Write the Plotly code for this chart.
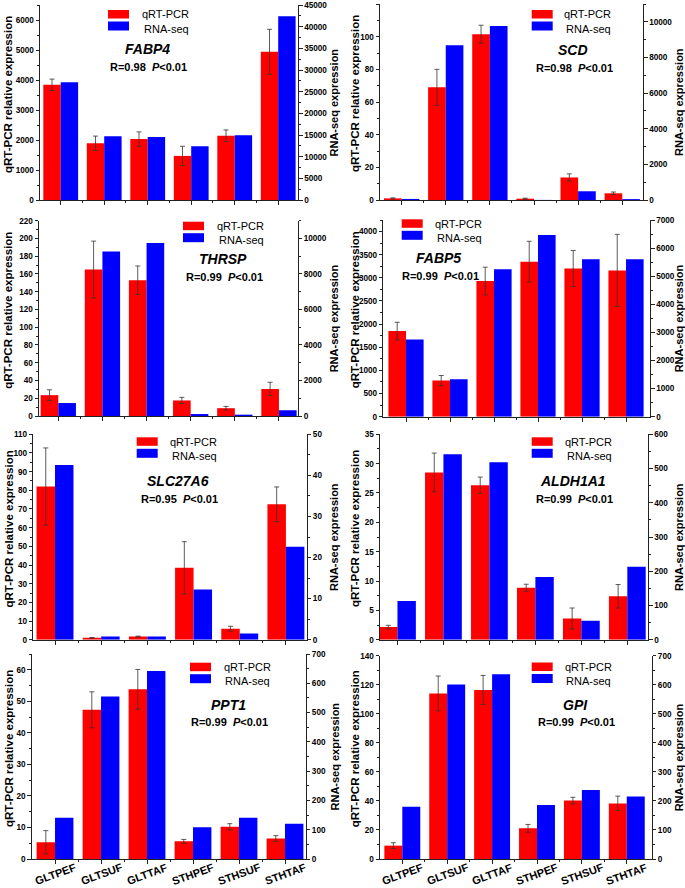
import plotly.graph_objects as go

W, H = 685, 888

categories = ["GLTPEF", "GLTSUF", "GLTTAF", "STHPEF", "STHSUF", "STHTAF"]
genes = ["FABP4", "SCD", "THRSP", "FABP5", "SLC27A6", "ALDH1A1", "PPT1", "GPI"]
r_values = ["0.98", "0.98", "0.99", "0.99", "0.95", "0.99", "0.99", "0.99"]

fabp4_qpcr = [3840, 1890, 2030, 1470, 2140, 4940]
fabp4_qpcr_err = [190, 240, 240, 320, 195, 750]
fabp4_rnaseq = [27200, 14700, 14550, 12400, 14950, 42400]

scd_qpcr = [1.0, 69, 101.5, 0.8, 13.8, 4.1]
scd_qpcr_err = [0.3, 11, 5.5, 0.3, 2.2, 0.8]
scd_rnaseq = [60, 8680, 9760, 5, 490, 50]

thrsp_qpcr = [23.5, 165, 153, 17.5, 8.8, 30.5]
thrsp_qpcr_err = [6, 32, 16, 3.5, 2, 7.5]
thrsp_rnaseq = [730, 9270, 9740, 110, 75, 320]

fabp5_qpcr = [1850, 780, 2930, 3350, 3200, 3160]
fabp5_qpcr_err = [190, 110, 300, 440, 390, 780]
fabp5_rnaseq = [2745, 1330, 5245, 6465, 5600, 5600]

slc27a6_qpcr = [82, 1.0, 1.7, 38.5, 5.9, 72.5]
slc27a6_qpcr_err = [20.7, 0.2, 0.2, 14, 1.3, 9.3]
slc27a6_rnaseq = [42.5, 0.8, 0.8, 12.2, 1.5, 22.6]

aldh1a1_qpcr = [2.15, 28.5, 26.3, 8.85, 3.6, 7.4]
aldh1a1_qpcr_err = [0.3, 3.3, 1.4, 0.6, 1.8, 2.0]
aldh1a1_rnaseq = [113, 542, 518, 183, 55, 213]

ppt1_qpcr = [5.3, 47.3, 53.8, 5.6, 10.2, 6.5]
ppt1_qpcr_err = [3.7, 5.7, 6.3, 0.6, 1.0, 0.9]
ppt1_rnaseq = [141, 555, 642, 108, 141, 120]

gpi_qpcr = [9.2, 114, 116.4, 21.1, 40.2, 38.3]
gpi_qpcr_err = [2, 12, 10, 2.7, 2.3, 5]
gpi_rnaseq = [180, 601, 636, 186, 238, 215]

qpcr_sets = [fabp4_qpcr, scd_qpcr, thrsp_qpcr, fabp5_qpcr, slc27a6_qpcr, aldh1a1_qpcr, ppt1_qpcr, gpi_qpcr]
err_sets = [fabp4_qpcr_err, scd_qpcr_err, thrsp_qpcr_err, fabp5_qpcr_err, slc27a6_qpcr_err,
            aldh1a1_qpcr_err, ppt1_qpcr_err, gpi_qpcr_err]
rna_sets = [fabp4_rnaseq, scd_rnaseq, thrsp_rnaseq, fabp5_rnaseq, slc27a6_rnaseq, aldh1a1_rnaseq, ppt1_rnaseq, gpi_rnaseq]

# axis ranges / ticks
left_ranges = [(6500, 1000), (120, 20), (220, 20), (4250, 500), (110, 10), (35, 5), (65, 10), (140, 20)]
right_ranges = [(45000, 5000), (11000, 2000), (11000, 2000), (7000, 1000), (50, 10), (600, 100), (700, 100), (700, 100)]

# panel geometry in pixels: left, right, top, bottom, x-range
panels = [
    (40, 298, 5, 200, (-0.476, 5.455)),
    (380, 643, 4, 200, (-0.49, 5.47)),
    (39, 297.5, 220.7, 416, (-0.437, 5.42)),
    (383.3, 650, 220, 416.7, (-0.516, 5.545)),
    (33.3, 306.7, 434.3, 639.7, (-0.47, 5.45)),
    (380, 648, 434.3, 639.7, (-0.38, 5.45)),
    (31.7, 305.7, 654, 859, (-0.507, 5.45)),
    (380, 651.7, 655.7, 859, (-0.497, 5.555)),
]

# legend / label anchor positions (px): swatch left x, text left x, legend top y, gene center x, gene y, R y
labels = [
    (108, 140, 10, 147, 49, 67),
    (531.7, 562, 10, 573, 50, 68),
    (183, 215, 221.7, 223, 259, 276.7),
    (401.7, 433.3, 219.3, 439, 258.3, 275.7),
    (136.7, 168.3, 437.3, 178.3, 480.7, 499),
    (531.7, 563, 437.3, 573.3, 480.7, 499),
    (190, 221.7, 662.7, 228.3, 705, 722.3),
    (531.7, 562.7, 662.5, 575, 705, 722.3),
]

FONT = "Arial, Liberation Sans, sans-serif"
RED = "#FF0000"
BLUE = "#0000FF"
AX = "#222222"

def px(x):
    return x / W

def py(y):
    return 1 - y / H

fig = go.Figure()
layout = dict(
    width=W, height=H, margin=dict(l=0, r=0, t=0, b=0, pad=0), autosize=False,
    paper_bgcolor="white", plot_bgcolor="white", showlegend=False,
    font=dict(family=FONT, color="black"),
)
annotations = []
shapes = []
xpos = list(range(len(categories)))
minor_x = [i + 0.5 for i in range(len(categories) - 1)]
BW = 0.4

for i in range(8):
    L, R, T, B, xr = panels[i]
    xn = "x" if i == 0 else f"x{i+1}"
    yl_id = 2 * i + 1
    yr_id = 2 * i + 2
    yl = "y" if yl_id == 1 else f"y{yl_id}"
    yr = f"y{yr_id}"
    bottom_row = i >= 6
    right_col = i % 2 == 1

    fig.add_trace(go.Bar(
        x=xpos, y=qpcr_sets[i], xaxis=xn, yaxis=yl, width=BW, offset=-BW,
        marker=dict(color=RED, line=dict(width=0)), name="qRT-PCR",
        error_y=dict(type="data", array=err_sets[i], color="#333333", thickness=0.8, width=2.5),
    ))
    fig.add_trace(go.Bar(
        x=xpos, y=rna_sets[i], xaxis=xn, yaxis=yr, width=BW, offset=0,
        marker=dict(color=BLUE, line=dict(width=0)), name="RNA-seq",
    ))

    xkey = "xaxis" if i == 0 else f"xaxis{i+1}"
    ylkey = "yaxis" if yl_id == 1 else f"yaxis{yl_id}"
    yrkey = f"yaxis{yr_id}"
    layout[xkey] = dict(
        domain=[px(L), px(R)], anchor=yl, range=list(xr), automargin=False,
        tickmode="array", tickvals=xpos, showticklabels=False,
        ticks="outside", ticklen=4, tickwidth=1, tickcolor=AX,
        minor=dict(tickmode="array", tickvals=minor_x, ticks="outside", ticklen=2, tickcolor=AX),
        showline=True, linecolor=AX, linewidth=1, showgrid=False, zeroline=False, fixedrange=True,
    )
    lmax, ldt = left_ranges[i]
    rmax, rdt = right_ranges[i]
    layout[ylkey] = dict(
        domain=[py(B), py(T)], anchor=xn, range=[0, lmax], dtick=ldt, tick0=0, automargin=False,
        tickformat="d",
        ticks="outside", ticklen=3.5, tickwidth=1, tickcolor=AX,
        minor=dict(dtick=ldt / 2, ticks="outside", ticklen=2, tickcolor=AX),
        tickfont=dict(size=8.2, family=FONT, weight="bold", color="black"),
        showline=True, linecolor=AX, linewidth=1, showgrid=False, zeroline=False,
    )
    layout[yrkey] = dict(
        domain=[py(B), py(T)], anchor=xn, overlaying=yl, side="right", automargin=False,
        range=[0, rmax], dtick=rdt, tick0=0, tickformat="d",
        ticks="outside", ticklen=3.5, tickwidth=1, tickcolor=AX,
        minor=dict(dtick=rdt / 2, ticks="outside", ticklen=2, tickcolor=AX),
        tickfont=dict(size=8.2, family=FONT, weight="bold", color="black"),
        showline=True, linecolor=AX, linewidth=1, showgrid=False, zeroline=False,
    )

    # category labels on the bottom row (slanted, centred on each category)
    if bottom_row:
        for k, cat in enumerate(categories):
            annotations.append(dict(
                text=f"<b>{cat}</b>", x=xpos[k], y=py(873.5), xref=xn, yref="paper",
                textangle=-20, showarrow=False, xanchor="center", yanchor="middle",
                font=dict(size=11, family=FONT, color="black"),
            ))

    # axis titles
    ymid = (T + B) / 2
    lt_x = 8.5 if not right_col else 355
    rt_x = 334 if not right_col else 679
    annotations.append(dict(
        text="qRT-PCR relative expression", x=px(lt_x), y=py(ymid - 8), xref="paper", yref="paper",
        textangle=-90, showarrow=False, xanchor="center", yanchor="middle",
        font=dict(size=11.5, family=FONT, weight="bold", color="black"),
    ))
    annotations.append(dict(
        text="RNA-seq expression", x=px(rt_x), y=py(ymid), xref="paper", yref="paper",
        textangle=-90, showarrow=False, xanchor="center", yanchor="middle",
        font=dict(size=11, family=FONT, weight="bold", color="black"),
    ))

    sx, tx, ty, gx, gy, ry = labels[i]
    shapes.append(dict(type="rect", xref="paper", yref="paper", x0=px(sx), x1=px(sx + 21),
                       y0=py(ty), y1=py(ty + 8.5), fillcolor=RED, line=dict(width=0)))
    shapes.append(dict(type="rect", xref="paper", yref="paper", x0=px(sx), x1=px(sx + 21),
                       y0=py(ty + 11.5), y1=py(ty + 20.5), fillcolor=BLUE, line=dict(width=0)))
    annotations.append(dict(text="qRT-PCR", x=px(tx), y=py(ty + 4.5), xref="paper", yref="paper",
                            showarrow=False, xanchor="left", yanchor="middle",
                            font=dict(size=11, family=FONT, color="black")))
    annotations.append(dict(text="RNA-seq", x=px(tx + 1.5), y=py(ty + 18.5), xref="paper", yref="paper",
                            showarrow=False, xanchor="left", yanchor="middle",
                            font=dict(size=11, family=FONT, color="black")))
    annotations.append(dict(text=f"<b><i>{genes[i]}</i></b>", x=px(gx), y=py(gy), xref="paper", yref="paper",
                            showarrow=False, xanchor="center", yanchor="middle",
                            font=dict(size=14, family=FONT, color="black")))
    annotations.append(dict(text=f"<b>R={r_values[i]}  <i>P</i>&lt;0.01</b>", x=px(gx + 1), y=py(ry),
                            xref="paper", yref="paper", showarrow=False, xanchor="center", yanchor="middle",
                            font=dict(size=11, family=FONT, color="black")))

layout["annotations"] = annotations
layout["shapes"] = shapes
fig.update_layout(**layout)
fig.write_html(
    "out.html",
    config={"displayModeBar": False, "staticPlot": True},
    post_script="document.body.style.margin='0px';document.body.style.overflow='hidden';",
)
